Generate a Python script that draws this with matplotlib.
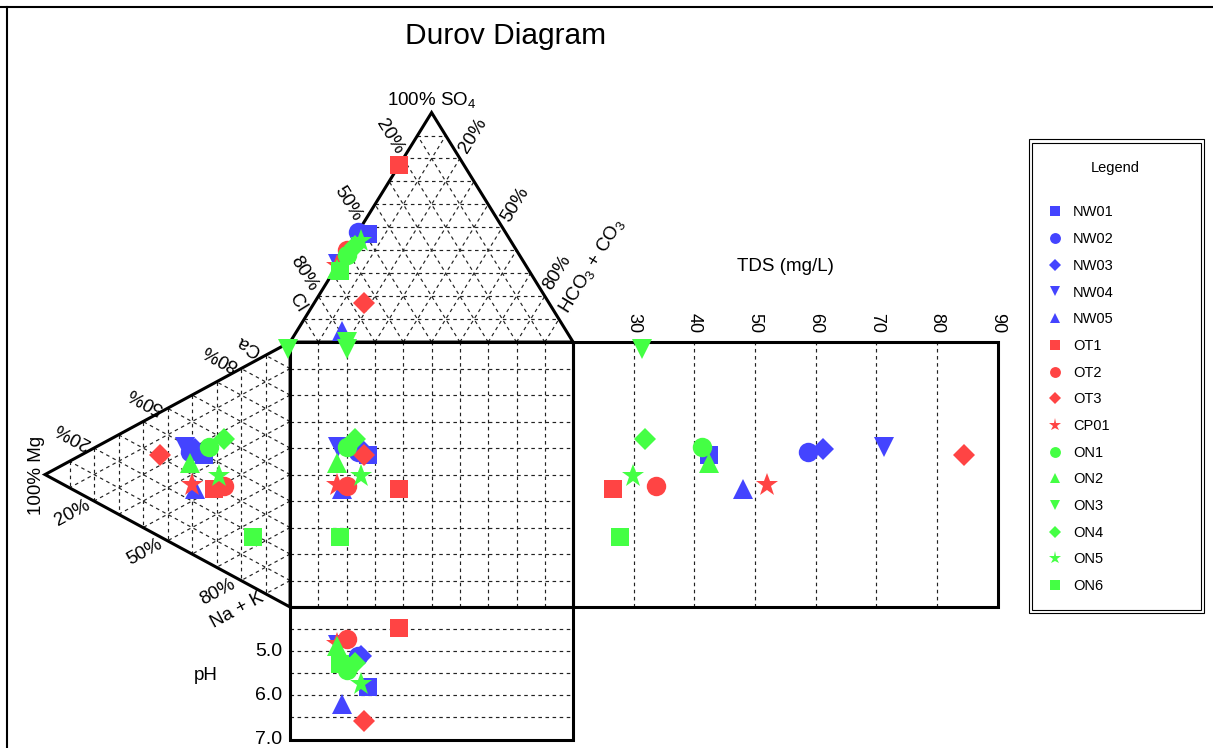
import numpy as np
import matplotlib.pyplot as plt
from matplotlib.patches import Rectangle, Polygon
from matplotlib.lines import Line2D

plt.rcParams['font.family'] = ['Liberation Sans', 'DejaVu Sans']
plt.rcParams['mathtext.default'] = 'regular'

# sample data (cations / anions in meq %, TDS in mg/L)
samples = ['NW01', 'NW02', 'NW03', 'NW04', 'NW05', 'OT1', 'OT2', 'OT3', 'CP01',
           'ON1', 'ON2', 'ON3', 'ON4', 'ON5', 'ON6']
ca = [40, 38, 40, 39, 25, 29, 32, 31, 26, 44, 34, 97, 50, 35, 19]
mg = [35, 41, 39, 43, 39, 31, 27, 53, 40, 33, 41, 1, 27, 29, 15]
so4 = [47, 48, 46, 34, 5, 77, 40, 17, 33, 38, 32, 0, 42, 44, 31]
hco3 = [4, 0, 2, 0, 16, 0, 0, 17.5, 0, 1, 0.5, 20, 2, 3, 2]
tds = [42.4, 58.8, 61.2, 71.2, 48.0, 26.5, 33.7, 84.5, 52.0, 41.3, 42.4, 31.4, 31.8, 29.8, 27.8]
ph = [5.80, 5.10, 5.12, 4.85, 6.20, 4.48, 4.73, 6.58, 4.83, 5.42, 4.89, 5.35, 5.26, 5.75, 5.30]

tds_ticks = [30, 40, 50, 60, 70, 80, 90]
ph_ticks = [5.0, 6.0, 7.0]

blue, red, green = '#4444ff', '#ff4444', '#44ff44'
colors = [blue] * 5 + [red] * 4 + [green] * 6
markers = ['s', 'o', 'D', 'v', '^', 's', 'o', 'D', '*', 'o', '^', 'v', 'D', '*', 's']
msize = {'s': 12.5, 'o': 14, 'D': 11, 'v': 14, '^': 14, '*': 17}

H = np.sqrt(3) / 2 * 100  # height of the triangles


def anion_xy(cl, hc, s):
    # Cl at (0,100), HCO3 at (100,100), SO4 at (50,100+H)
    tot = cl + hc + s
    return (100 * hc + 50 * s) / tot, 100 + H * s / tot


def cation_xy(c, m, n):
    # Ca at (0,100), Na+K at (0,0), Mg at (-H,50)
    tot = c + m + n
    return -H * m / tot, (100 * c + 50 * m) / tot


def tds_x(t):
    return 100 + (t - 20) * 150 / 70


def ph_y(p):
    return -(p - 4) * 50 / 3


def px(x, y):
    # image pixel -> diagram units, used only to place labels
    return (x - 290) / 2.83, (607 - y) / 2.65


fig = plt.figure(figsize=(12.13, 7.48), dpi=100)
ax = fig.add_axes([0, 0, 1, 1])
ax.set_xlim(-102.5, 326.1)
ax.set_ylim(-53.2, 229.1)
ax.axis('off')

grid = dict(color='#222222', lw=0.85, ls=(0, (3, 3)), zorder=1)
for k in range(10, 100, 10):
    for a, b in [((100 - k, 0, k), (0, 100 - k, k)),
                 ((100 - k, k, 0), (0, k, 100 - k)),
                 ((k, 100 - k, 0), (k, 0, 100 - k))]:
        p, q = anion_xy(*a), anion_xy(*b)
        ax.plot([p[0], q[0]], [p[1], q[1]], **grid)
    for a, b in [((100 - k, k, 0), (0, k, 100 - k)),
                 ((k, 0, 100 - k), (k, 100 - k, 0)),
                 ((100 - k, 0, k), (0, 100 - k, k))]:
        p, q = cation_xy(*a), cation_xy(*b)
        ax.plot([p[0], q[0]], [p[1], q[1]], **grid)
    ax.plot([k, k], [0, 100], **grid)
    ax.plot([0, 100], [k, k], **grid)
for t in tds_ticks[:-1]:
    ax.plot([tds_x(t)] * 2, [0, 100], **grid)
for p in np.arange(4.5, 7.0, 0.5):
    ax.plot([0, 100], [ph_y(p)] * 2, **grid)

edge = dict(fill=False, ec='black', lw=2.2, zorder=3, joinstyle='miter')
ax.add_patch(Polygon([anion_xy(100, 0, 0), anion_xy(0, 0, 100), anion_xy(0, 100, 0)], **edge))
ax.add_patch(Polygon([cation_xy(100, 0, 0), cation_xy(0, 100, 0), cation_xy(0, 0, 100)], **edge))
ax.add_patch(Rectangle((0, 0), 100, 100, **edge))
ax.add_patch(Rectangle((100, 0), tds_x(90) - 100, 100, **edge))
ax.add_patch(Rectangle((0, ph_y(7)), 100, -ph_y(7), **edge))

for i, name in enumerate(samples):
    axx, axy = anion_xy(100 - so4[i] - hco3[i], hco3[i], so4[i])
    cxx, cxy = cation_xy(ca[i], mg[i], 100 - ca[i] - mg[i])
    xs = [axx, cxx, axx, tds_x(tds[i]), axx]
    ys = [axy, cxy, cxy, cxy, ph_y(ph[i])]
    ax.plot(xs, ys, ls='none', marker=markers[i], ms=msize[markers[i]],
            color=colors[i], mew=0, label=name, zorder=4)

# labels
fs = 13.5
a_top, a_cat = 58.35, 28.4
ax.text(*px(432, 100), '100% SO$_4$', ha='center', va='center', fontsize=fs)
for lab, (x, y) in zip(['20%', '50%', '80%', 'Cl'],
                       [(390, 137), (348, 204), (304, 274), (297, 303)]):
    ax.text(*px(x, y), lab, rotation=-a_top, ha='center', va='center', fontsize=fs)
for lab, (x, y) in zip(['20%', '50%', '80%', 'HCO$_3$ + CO$_3$'],
                       [(473, 136), (515, 205), (557, 273), (592, 266)]):
    ax.text(*px(x, y), lab, rotation=a_top, ha='center', va='center', fontsize=fs)
for lab, (x, y) in zip(['20%', '50%', '80%', 'Ca'],
                       [(72, 435), (145, 400), (220, 357), (248, 345)]):
    ax.text(*px(x, y), lab, rotation=180 - a_cat, ha='center', va='center', fontsize=fs)
for lab, (x, y) in zip(['20%', '50%', '80%', 'Na + K'],
                       [(72, 513), (145, 552), (217, 592), (237, 610)]):
    ax.text(*px(x, y), lab, rotation=a_cat, ha='center', va='center', fontsize=fs)
ax.text(*px(36, 475), '100% Mg', rotation=90, ha='center', va='center', fontsize=fs)

for t in tds_ticks:
    ax.text(tds_x(t), px(0, 323)[1], str(t), rotation=-90, ha='center', va='center', fontsize=13)
ax.text(*px(785, 266), 'TDS (mg/L)', ha='center', va='center', fontsize=fs)
for p in ph_ticks:
    ax.text(px(282, 0)[0], ph_y(p), f'{p:.1f}', ha='right', va='center', fontsize=14)
ax.text(*px(206, 675), 'pH', ha='center', va='center', fontsize=fs)

fig.text(506 / 1213, 1 - 36 / 748, 'Durov Diagram', ha='center', va='center', fontsize=21.5)

# legend with a double frame
ax.legend(loc='upper left', bbox_to_anchor=(1047.7 / 1213, 1 - 205.5 / 748),
          bbox_transform=fig.transFigure, frameon=False, fontsize=10.5,
          markerscale=0.56, handlelength=1.0, handletextpad=0.73,
          labelspacing=0.87, borderpad=0, borderaxespad=0)
fig.text(1115 / 1213, 1 - 168 / 748, 'Legend', ha='center', va='center', fontsize=10.5)
W, Hh = 1213, 748
for x0, y0, x1, y1 in [(1029.3, 139.3, 1203.7, 613.3), (1031.7, 142.7, 1201, 610)]:
    fig.add_artist(Rectangle((x0 / W, 1 - y1 / Hh), (x1 - x0) / W, (y1 - y0) / Hh,
                             transform=fig.transFigure, fill=False, ec='black', lw=0.8))

# page frame
fig.add_artist(Line2D([0, 1], [1 - 7 / Hh] * 2, transform=fig.transFigure, color='black', lw=1.5))
fig.add_artist(Line2D([7 / W] * 2, [0, 1 - 7 / Hh], transform=fig.transFigure, color='black', lw=1.5))

fig.savefig('out.png', dpi=100)
